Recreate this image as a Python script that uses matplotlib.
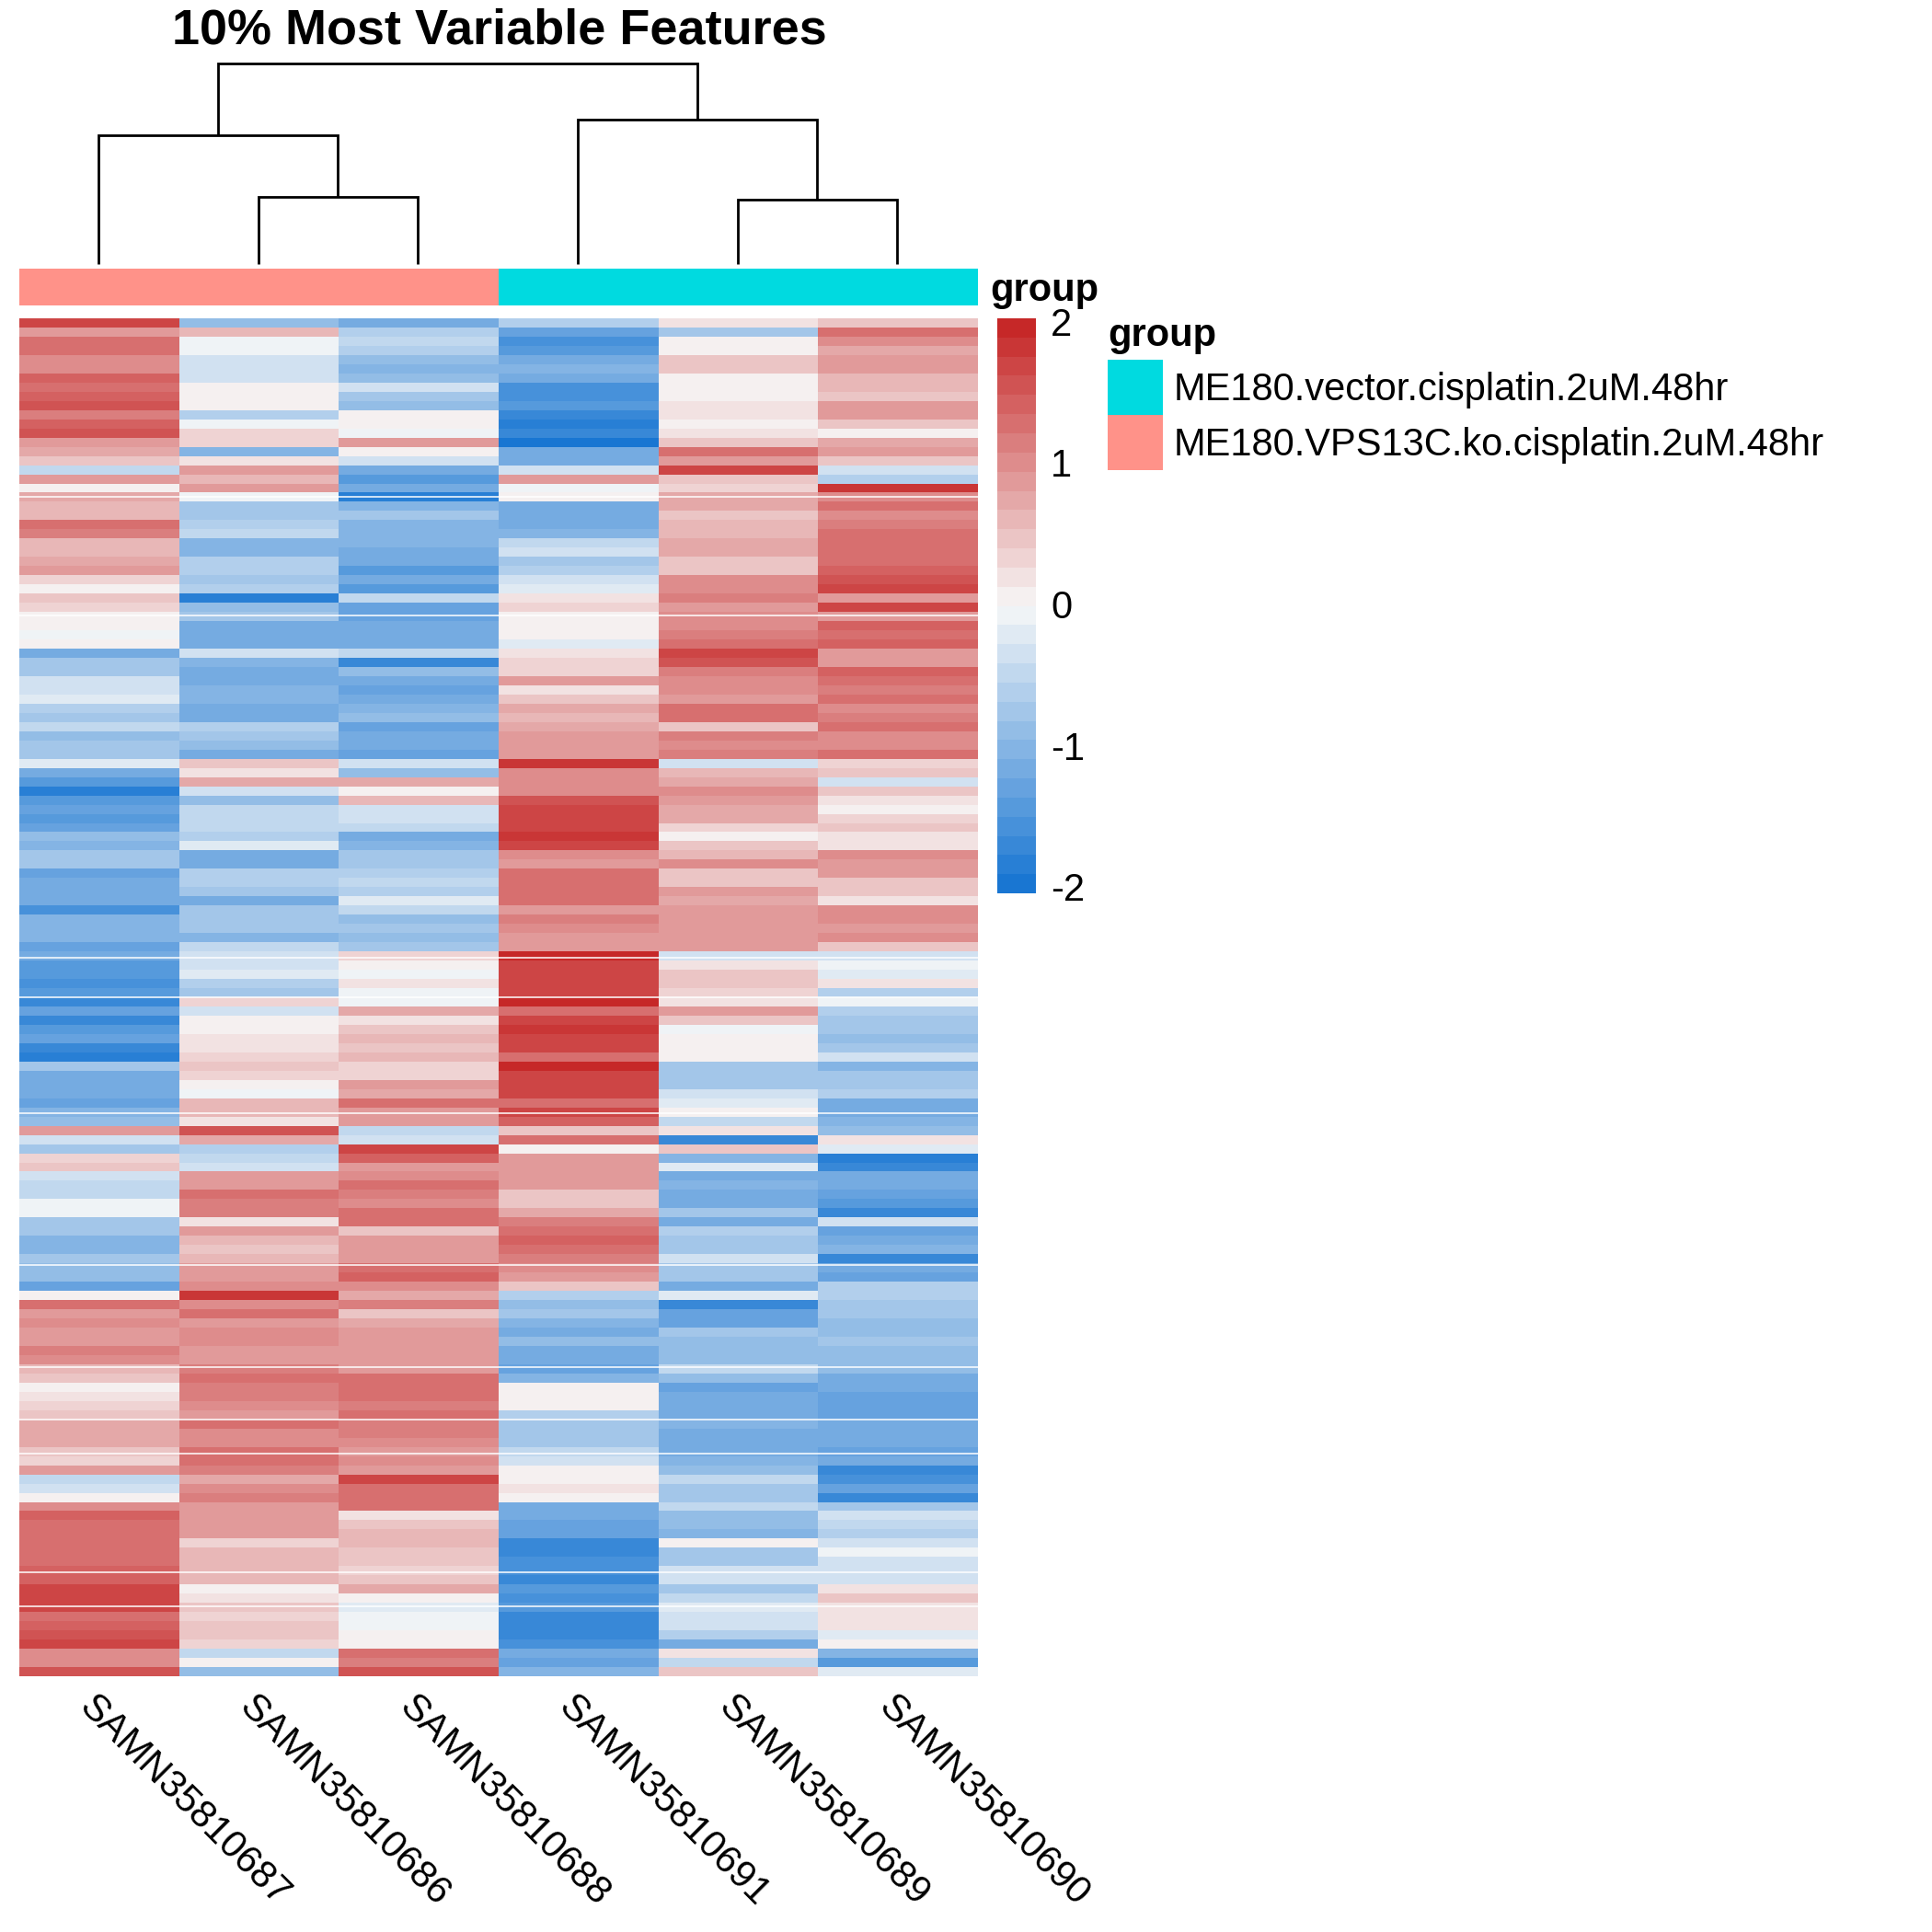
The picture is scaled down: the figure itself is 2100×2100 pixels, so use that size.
import numpy as np
import matplotlib
matplotlib.use("Agg")
import matplotlib.pyplot as plt
from matplotlib.colors import LinearSegmentedColormap, ListedColormap

plt.rcParams['font.family'] = ['Liberation Sans', 'DejaVu Sans']

samples = ["SAMN35810687", "SAMN35810686", "SAMN35810688", "SAMN35810691", "SAMN35810689", "SAMN35810690"]
title = "10% Most Variable Features"
groups = ["ME180.vector.cisplatin.2uM.48hr", "ME180.VPS13C.ko.cisplatin.2uM.48hr"]
group_colors = ["#00DAE0", "#FF9289"]
sample_group = [1, 1, 1, 0, 0, 0]
scale_ticks = [2, 1, 0, -1, -2]

# dendrogram merge: (left x, right x, left base, right base, height); heights in tree units
tree_merges = [
    (1.0, 2.0, 0, 0, 73),
    (0.0, 1.5, 0, 73, 140),
    (4.0, 5.0, 0, 0, 70),
    (3.0, 4.5, 0, 70, 157),
    (0.75, 3.75, 140, 157, 218),
]

col_687 = [1.6,0.9,1.3,1.2,1.0,1.0,1.4,1.3,1.4,1.5,1.1,1.4,1.5,0.8,0.7,0.5,-0.5,0.8,0.1,0.7,0.6,0.6,
 1.2,1.1,0.6,0.6,0.7,0.9,0.3,0.1,0.5,0.3,0.1,0.0,-0.1,0.1,-1.2,-0.7,-0.8,-0.3,-0.3,-0.2,-0.6,-0.7,-0.5,-0.9,-0.8,-0.7,-0.2,-1.2,-1.4,-1.8,-1.4,-1.3,-1.4,
 -1.3,-0.9,-1.0,-0.8,-0.8,-1.3,-1.2,-1.1,-1.2,-1.5,-1.0,-1.0,-1.0,-1.3,-1.1,-1.4,-1.4,-1.5,-1.4,-1.7,-1.3,-1.6,-1.4,-1.3,-1.6,-1.8,-0.8,-1.1,-1.2,-1.2,-1.3,-1.0,-0.9,0.8,-0.4,-0.8,0.3,0.4,-0.4,-0.5,-0.5,-0.1,-0.1,-0.7,-0.8,-1.0,-1.0,-0.8,-0.9,-0.9,-1.3,0.0,1.2,0.9,1.0,0.9,
 0.9,1.1,1.0,0.6,0.4,0.0,0.2,0.3,0.5,0.7,0.7,0.7,0.4,0.3,0.8,-0.5,-0.3,0.0,1.0,1.4,1.3,1.2,1.2,1.2,1.2,1.4,1.4,1.6,1.6,1.6,1.3,1.4,1.5,1.6,1.0,1.0,1.5]
col_686 = [-0.9,0.6,-0.1,-0.1,-0.4,-0.4,-0.3,0.0,0.1,0.0,-0.6,-0.1,0.3,0.3,-1.0,0.2,0.9,0.6,0.9,-0.1,-0.7,-0.7,
 -0.6,-0.5,-1.0,-1.0,-0.6,-0.6,-0.8,-0.6,-1.8,-0.9,-0.8,-1.1,-1.1,-1.2,-0.3,-1.0,-1.2,-1.1,-1.0,-1.0,-1.1,-1.1,-0.6,-0.7,-0.9,-1.1,0.5,0.2,0.7,-0.4,-0.9,-0.5,-0.5,
 -0.5,-0.6,-0.2,-1.2,-1.1,-0.6,-0.6,-0.7,-1.1,-0.8,-0.8,-0.8,-1.0,-0.5,-0.4,-0.4,-0.2,-0.6,-0.7,0.3,-0.3,0.0,0.0,0.2,0.2,0.3,0.5,0.3,0.1,-0.1,0.6,0.6,0.2,1.5,0.7,-0.6,-0.5,-0.4,0.9,0.9,1.3,1.1,1.1,0.2,0.9,0.6,0.5,0.6,0.8,0.9,1.0,1.8,1.0,1.2,0.9,1.0,
 1.0,0.9,0.9,1.1,1.2,1.1,1.1,1.0,0.9,1.2,1.0,1.0,1.2,1.2,1.1,0.7,1.0,1.1,0.9,0.8,0.8,0.8,0.3,0.6,0.6,0.6,0.6,0.0,0.2,0.4,0.3,0.5,0.4,0.3,-0.5,0.1,-0.9]
col_688 = [-1.1,-0.6,-0.5,-0.6,-0.9,-1.0,-0.9,-0.4,-0.8,-0.9,0.1,0.0,-0.1,0.9,0.0,-0.4,-1.2,-1.4,-1.2,-1.8,-1.0,-0.7,
 -1.0,-1.0,-1.0,-1.1,-1.2,-1.4,-1.2,-1.4,-0.5,-1.3,-1.3,-1.2,-1.2,-1.1,-0.5,-1.6,-0.9,-1.2,-1.3,-1.2,-1.0,-0.9,-1.3,-1.1,-1.1,-1.3,-0.3,-0.9,0.7,0.0,0.6,-0.4,-0.4,
 -0.5,-1.1,-1.0,-0.8,-0.8,-0.6,-0.5,-0.6,-0.2,-0.5,-0.9,-0.8,-0.9,-0.8,0.3,0.1,-0.1,0.2,-0.1,-0.1,0.7,0.2,0.5,0.6,0.5,0.6,0.3,0.3,0.9,0.7,1.2,0.9,0.9,-0.5,-0.3,1.7,1.4,0.9,1.0,1.3,1.1,1.0,1.2,1.2,0.4,0.8,0.9,0.9,1.3,1.4,1.0,0.7,1.1,0.4,0.7,0.8,
 0.9,0.8,0.8,0.8,1.2,1.2,1.2,1.1,1.3,1.1,1.1,1.0,0.9,1.0,0.9,1.7,1.3,1.2,1.2,0.2,0.4,0.6,0.6,0.5,0.4,0.3,0.4,0.7,0.0,-0.2,-0.1,-0.1,0.0,0.0,1.2,1.1,1.5]
col_691 = [-0.6,-1.3,-1.5,-1.4,-1.2,-1.0,-1.2,-1.5,-1.5,-1.4,-1.6,-1.8,-1.6,-1.9,-1.1,-1.2,-0.3,0.9,-0.1,0.0,-1.1,-1.2,
 -1.1,-1.0,-0.5,-0.3,-0.8,-0.6,-0.4,-0.2,0.2,0.3,0.1,0.0,0.0,-0.2,0.2,0.3,0.3,0.8,0.2,0.4,0.7,0.6,0.7,0.9,0.9,0.8,1.8,1.0,1.0,1.0,1.5,1.6,1.7,
 1.6,1.8,1.6,1.0,0.8,1.3,1.3,1.2,1.3,0.9,1.1,1.0,0.9,0.9,1.95,1.7,1.7,1.6,1.6,1.9,1.2,1.7,1.8,1.7,1.7,1.3,1.9,1.7,1.7,1.7,1.3,1.6,1.4,0.5,1.3,0.1,0.9,0.9,0.9,0.8,0.4,0.5,0.7,1.1,1.3,1.4,1.3,1.1,1.0,0.8,0.5,-0.6,-0.9,-0.7,-1.0,-1.1,
 -0.9,-1.1,-1.2,-1.3,-1.0,0.1,0.0,0.1,-0.6,-0.8,-0.7,-0.7,-0.5,-0.3,0.0,0.1,0.2,0.0,-1.1,-1.2,-1.3,-1.3,-1.6,-1.7,-1.5,-1.5,-1.6,-1.4,-1.5,-1.4,-1.7,-1.7,-1.6,-1.5,-1.2,-1.3,-1.0]
col_689 = [0.2,-0.7,0.0,0.1,0.4,0.4,0.0,0.0,0.0,0.2,0.2,0.1,0.2,0.4,1.3,0.9,1.7,0.5,0.3,0.7,0.7,0.5,
 0.6,0.6,0.7,0.7,0.5,0.5,1.0,1.0,1.1,0.9,1.0,1.0,1.1,1.3,1.6,1.5,1.1,1.0,1.0,0.9,1.2,1.2,0.5,1.1,1.0,1.1,-0.3,0.6,0.7,1.0,0.8,0.7,0.7,
 0.3,0.0,0.5,0.6,1.0,0.5,0.5,0.8,0.7,0.8,0.8,0.8,0.8,0.9,-0.3,0.2,0.5,0.5,0.3,0.2,0.9,0.5,-0.1,0.0,0.1,0.1,-0.8,-0.8,-0.7,-0.4,-0.2,0.0,-0.5,0.2,-1.6,0.4,-1.0,-0.2,-1.1,-1.0,-1.1,-1.1,-0.8,-1.2,-0.6,-0.8,-0.8,-0.3,-0.8,-0.8,-1.2,-0.2,-1.6,-1.3,-1.3,-0.8,
 -0.9,-0.9,-0.9,-0.5,-0.9,-1.3,-1.2,-1.2,-1.2,-1.0,-1.1,-1.1,-1.1,-1.0,-0.9,-0.5,-0.7,-0.8,-0.5,-0.9,-0.9,-1.0,0.1,-0.7,-0.7,-0.3,-0.3,-0.8,-0.5,-0.2,-0.3,-0.4,-0.6,-1.2,0.2,-0.5,0.4]
col_690 = [0.4,1.2,1.0,0.7,0.9,0.9,0.6,0.6,0.5,0.8,0.9,0.5,0.1,0.7,0.8,0.5,-0.4,-0.6,1.8,1.0,1.2,1.0,
 1.1,1.3,1.2,1.3,1.3,1.4,1.5,1.6,0.9,1.6,0.9,1.4,1.3,1.4,0.9,0.8,1.4,1.2,1.1,1.2,1.0,1.1,1.2,1.0,1.0,1.2,0.3,0.5,-0.3,0.5,0.2,0.0,0.3,
 0.4,0.2,0.2,1.0,0.9,0.9,0.4,0.5,0.2,1.0,1.0,0.9,1.0,0.4,-0.4,-0.1,-0.2,0.2,-0.6,-0.1,-0.6,-0.7,-0.7,-0.9,-0.8,-0.4,-1.0,-0.8,-0.7,-0.6,-1.1,-1.1,-1.0,-0.9,0.2,-0.2,-1.8,-1.6,-1.2,-1.2,-1.3,-1.4,-1.7,-0.3,-1.3,-1.2,-1.0,-1.6,-1.2,-1.3,-0.6,-0.6,-0.7,-0.7,-0.9,-0.9,
 -0.8,-0.9,-0.9,-0.9,-1.1,-1.1,-1.3,-1.3,-1.3,-1.2,-1.2,-1.1,-1.3,-1.2,-1.6,-1.5,-1.3,-1.7,-0.7,-0.4,-0.5,-0.6,-0.4,-0.1,-0.4,-0.4,-0.4,0.2,0.4,0.2,0.2,0.2,-0.2,0.0,-1.0,-1.4,-0.2]
# rows at which a blank separating line crosses all samples
blank_rows = [19.5, 32.4, 69.7, 74.0, 86.6, 103.2, 114.3, 120.0, 123.7, 136.7, 140.4]

matrix = np.array([col_687, col_686, col_688, col_691, col_689, col_690]).T
W = H = 2100
fig = plt.figure(figsize=(W / 100, H / 100), dpi=100, facecolor='white')

def px_axes(x0, y0, x1, y1):
    ax = fig.add_axes([x0 / W, 1 - y1 / H, (x1 - x0) / W, (y1 - y0) / H])
    ax.axis('off')
    return ax

ramp = LinearSegmentedColormap.from_list('rb', ['#1976D2', '#F7F7F7', '#C62828'], N=30)

hm = px_axes(21, 346, 1063, 1822)
hm.pcolormesh(np.arange(matrix.shape[1] + 1), np.arange(matrix.shape[0] + 1), matrix,
              cmap=ramp, vmin=-2, vmax=2, linewidth=0, rasterized=True)
hm.set_xlim(0, matrix.shape[1]); hm.set_ylim(matrix.shape[0], 0)
for r in blank_rows:
    hm.axhline(r, color='white', lw=1.1)

ann = px_axes(21, 292, 1063, 332)
ann.pcolormesh(np.arange(7), [0, 1], np.array([sample_group]), cmap=ListedColormap(group_colors), vmin=0, vmax=1)
ann.set_xlim(0, 6); ann.set_ylim(0, 1)

den = px_axes(20, 69, 1062, 287)
for xl, xr, bl, br, h in tree_merges:
    den.plot([xl + .5, xl + .5, xr + .5, xr + .5], [bl, h, h, br], color='black', lw=2.0,
             solid_joinstyle='miter', solid_capstyle='butt', clip_on=False)
den.set_xlim(0, 6); den.set_ylim(0, 218)

cb = px_axes(1084, 346, 1126, 971)
cb.pcolormesh([0, 1], np.linspace(-2, 2, 31), (np.linspace(-2, 2, 31)[:-1] + 2 / 30)[:, None],
              cmap=ramp, vmin=-2, vmax=2)
cb.set_xlim(0, 1); cb.set_ylim(-2, 2)

ov = px_axes(0, 0, W, H)
ov.set_xlim(0, W); ov.set_ylim(H, 0); ov.patch.set_alpha(0)
FS = 30
ov.text(543, 34, title, fontsize=38.9, fontweight='bold', ha='center', va='center')
ov.text(1076, 316, "group", fontsize=FS, fontweight='bold', ha='left', va='center')
ov.text(1204, 365, "group", fontsize=FS, fontweight='bold', ha='left', va='center')
for v in scale_ticks:
    ov.text(1142, 661 - v * 153.5, str(v), fontsize=FS, ha='left', va='center')
for i, (g, c) in enumerate(zip(groups, group_colors)):
    ov.add_patch(plt.Rectangle((1204, 391 + 60 * i), 60, 60, fc=c, ec='none'))
    ov.text(1276, 424 + 60 * i, g, fontsize=FS, ha='left', va='center')
for i, s in enumerate(samples):
    ov.text(78 + 173.7 * i, 1835, s, fontsize=FS, rotation=-45, ha='left', va='top')

fig.savefig('out.png', dpi=100, facecolor='white')
